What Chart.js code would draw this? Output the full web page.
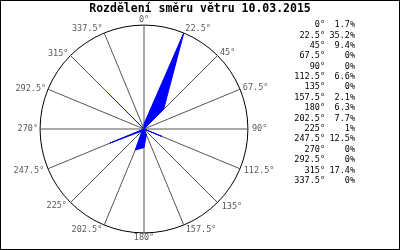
<!DOCTYPE html>
<html>
<head>
<meta charset="utf-8">
<script src="https://cdn.jsdelivr.net/npm/chart.js@4"></script>
<style>
  html, body { margin: 0; padding: 0; background: #fff; }
  #wrap { width: 400px; height: 250px; }
</style>
</head>
<body>
<div id="wrap"><canvas id="windChart" width="400" height="250"></canvas></div>
<script>
// smery vetru (16 sektoru) a jejich podil v %
const directions = ['0°', '22.5°', '45°', '67.5°', '90°', '112.5°', '135°', '157.5°',
                    '180°', '202.5°', '225°', '247.5°', '270°', '292.5°', '315°', '337.5°'];
const shares = [1.7, 35.2, 9.4, 0, 0, 6.6, 0, 2.1, 6.3, 7.7, 1, 12.5, 0, 0, 17.4, 0];
const chartTitle = 'Rozdělení směru větru 10.03.2015';

const mono = '"DejaVu Sans Mono", "Liberation Mono", monospace';
const blue = '#0000ff';
const spokeGray = '#555555';
const labelGray = '#5a5a5a';

// odsazeni popisku od kruhu (jen vzhled)
const labelPad = [5, 4, 3.5, 3, 4, 4, 6, 5, 5, 5, 5, 4, 2, 2, 3, 4];

// titulek pres celou sirku, tabulka vpravo a ramecek
// (titulek kreslime sami, protoze layout.padding.right by ho posunul doleva)
const sideTable = {
  id: 'sideTable',
  afterDraw(chart) {
    const ctx = chart.ctx;
    ctx.save();
    ctx.fillStyle = '#000';
    ctx.textBaseline = 'middle';

    ctx.font = 'bold 11.5px ' + mono;
    ctx.textAlign = 'center';
    ctx.fillText(chartTitle, 200, 9);

    ctx.font = '8.5px ' + mono;
    ctx.textAlign = 'right';
    directions.forEach((d, i) => {
      const y = 25 + i * 10.38;
      ctx.fillText(d, 325, y);
      ctx.fillText(shares[i] + '%', 355, y);
    });

    ctx.strokeStyle = '#000';
    ctx.lineWidth = 1;
    ctx.strokeRect(0.5, 0.5, 399, 249);
    ctx.restore();
  }
};

new Chart(document.getElementById('windChart'), {
  type: 'radar',
  data: {
    labels: directions,
    datasets: [{
      data: shares,
      backgroundColor: blue,
      borderColor: blue,
      borderWidth: 1,
      fill: true,
      pointRadius: 0,
      pointHoverRadius: 0
    }]
  },
  options: {
    responsive: false,
    animation: false,
    layout: { padding: { left: 0, right: 112, top: 21, bottom: 11 } },
    plugins: {
      legend: { display: false },
      tooltip: { enabled: false },
      title: { display: false }
    },
    scales: {
      r: {
        min: 0,
        max: 35.2,
        ticks: { display: false, count: 2 },
        grid: { circular: true, color: '#000', lineWidth: 1 },
        angleLines: { color: spokeGray, lineWidth: 1 },
        pointLabels: {
          color: labelGray,
          font: { family: mono, size: 8.5, lineHeight: 0.01 },
          padding: (ctx) => labelPad[ctx.index]
        }
      }
    }
  },
  plugins: [sideTable]
});
</script>
</body>
</html>
